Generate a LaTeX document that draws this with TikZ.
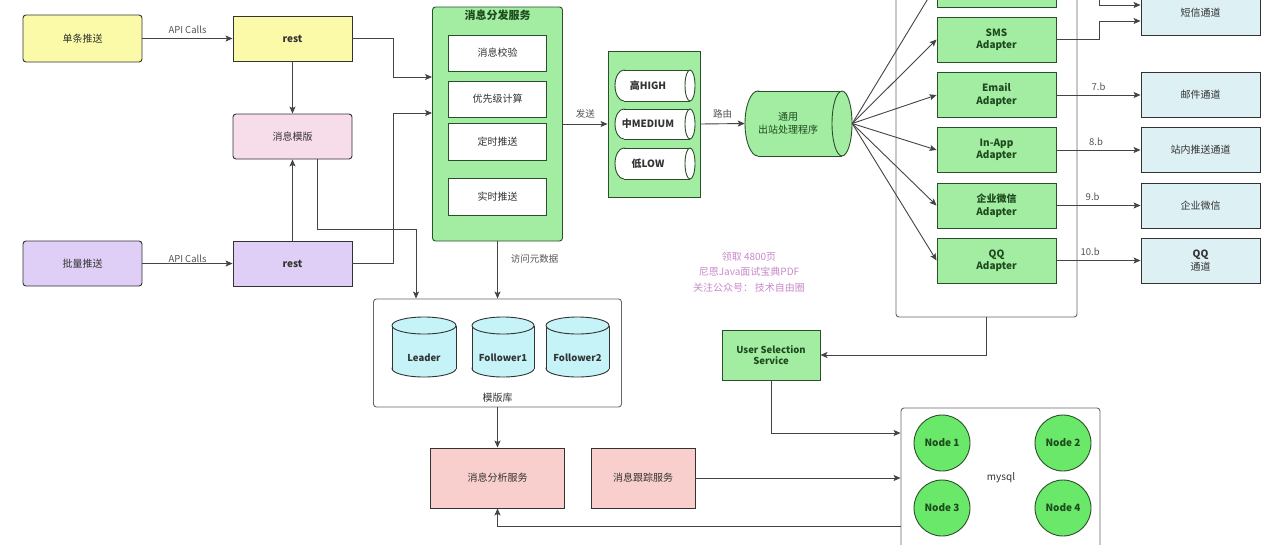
\documentclass[tikz,border=0pt]{standalone}
\usepackage{fontspec}
\setmainfont{Noto Sans CJK SC}
\usetikzlibrary{arrows.meta,calc}
\definecolor{cyel}{HTML}{FAFAA8}
\definecolor{cpink}{HTML}{F7DCE9}
\definecolor{cpur}{HTML}{DFCEF5}
\definecolor{cgreen}{HTML}{A2EDA2}
\definecolor{ccyan}{HTML}{C5F3F7}
\definecolor{cchan}{HTML}{DDF0F4}
\definecolor{csal}{HTML}{F8CFCC}
\definecolor{cnode}{HTML}{6AE86A}
\definecolor{bordc}{HTML}{333333}
\definecolor{gbord}{HTML}{2A4F2A}
\definecolor{gtxt}{HTML}{1E4A1E}
\definecolor{txtc}{HTML}{333333}
\definecolor{linec}{HTML}{444444}
\definecolor{lblc}{HTML}{555555}
\definecolor{wmark}{HTML}{C98AC9}
\newcommand\hcyl[7]{%
  \draw[draw=gbord,line width=0.9pt,fill=#7] ({#1+#5},{(#2+#4)/2}) ellipse [x radius=#5, y radius={(#4-#2)/2}];
  \fill[#7] ({#1+#5},#2) rectangle ({#3-#6},#4);
  \draw[draw=gbord,line width=0.9pt] ({#1+#5},#2) -- ({#3-#6},#2) ({#1+#5},#4) -- ({#3-#6},#4);
  \draw[draw=gbord,line width=0.9pt,fill=#7] ({#3-#6},{(#2+#4)/2}) ellipse [x radius=#6, y radius={(#4-#2)/2}];
}
\newcommand\vcyl[6]{%
  \draw[draw=bordc,line width=0.9pt,fill=#6] ({(#1+#3)/2},{#4-#5}) ellipse [x radius={(#3-#1)/2}, y radius=#5];
  \fill[#6] (#1,{#2+#5}) rectangle (#3,{#4-#5});
  \draw[draw=bordc,line width=0.9pt] (#1,{#2+#5}) -- (#1,{#4-#5}) (#3,{#2+#5}) -- (#3,{#4-#5});
  \draw[draw=bordc,line width=0.9pt,fill=#6] ({(#1+#3)/2},{#2+#5}) ellipse [x radius={(#3-#1)/2}, y radius=#5];
}
\begin{document}
\begin{tikzpicture}[x=1pt,y=-1pt,
  every node/.style={font=\fontsize{10}{12.5}\selectfont},
  bx/.style={draw=bordc, line width=0.9pt, minimum width=119, minimum height=45, inner sep=1pt, align=center, text=txtc},
  ybox/.style={bx, fill=cyel},
  pbox/.style={bx, fill=cpur},
  gbox/.style={bx, fill=cgreen, draw=gbord, text=gtxt, font=\fontsize{10}{12.5}\selectfont\bfseries},
  wbox/.style={bx, fill=white, draw=gbord, minimum width=98, minimum height=36},
  chbox/.style={bx, fill=cchan},
  sbox/.style={bx, fill=csal, minimum height=60},
  cont/.style={draw=black!60, line width=0.9pt, rounded corners=3pt, fill=white},
  nodec/.style={circle, draw=gbord, line width=0.9pt, fill=cnode, minimum size=56, inner sep=0pt, text=gtxt, font=\fontsize{10}{12}\selectfont\bfseries},
  lbl/.style={inner sep=1pt, text=lblc, font=\fontsize{9.5}{11}\selectfont},
  ctext/.style={inner sep=0pt, align=center},
  arr/.style={draw=linec, line width=0.9pt, -{Stealth[length=7pt,width=6pt,inset=1.5pt]}},
  ln/.style={draw=linec, line width=0.9pt}
]
\useasboundingbox (0,0) rectangle (1276,544);
\fill[white] (0,0) rectangle (1276,544);
\clip (0,0) rectangle (1276,544);

% left column
\node[ybox, rounded corners=3pt, minimum height=47] (s1) at (82.5,38.5) {单条推送};
\node[ybox, font=\fontsize{10}{12}\selectfont\bfseries] (r1) at (292.5,38.5) {rest};
\node[bx, fill=cpink, rounded corners=3pt] (tpl) at (292.5,136.5) {消息模版};
\node[pbox, rounded corners=3pt] (s2) at (82.5,263.5) {批量推送};
\node[pbox, font=\fontsize{10}{12}\selectfont\bfseries] (r2) at (292.5,263.5) {rest};

% dispatch service
\node[bx, fill=cgreen, draw=gbord, rounded corners=3pt, minimum width=130, minimum height=234] (disp) at (497.5,124) {};
\node[ctext, text=gtxt, font=\fontsize{11}{13}\selectfont\bfseries] (dispt) at (497.5,15) {消息分发服务};
\node[wbox] (v1) at (497.5,53) {消息校验};
\node[wbox] (v2) at (497.5,99) {优先级计算};
\node[wbox, minimum height=37] (v3) at (497.5,141.5) {定时推送};
\node[wbox, minimum height=37] (v4) at (497.5,196.5) {实时推送};

% queues
\node[bx, fill=cgreen, draw=gbord, minimum width=92, minimum height=146] (q) at (654,124) {};
\hcyl{615}{70}{695}{101}{9}{5}{white}
\hcyl{615}{109}{695}{139}{9}{5}{white}
\hcyl{615}{148}{695}{179}{9}{5}{white}
\node[ctext, text=txtc, font=\fontsize{10}{12}\selectfont\bfseries] (hi) at (648,85.5) {高HIGH};
\node[ctext, text=txtc, font=\fontsize{10}{12}\selectfont\bfseries] (med) at (648,124) {中MEDIUM};
\node[ctext, text=txtc, font=\fontsize{10}{12}\selectfont\bfseries] (lo) at (648,163.5) {低LOW};

% outbound handler
\hcyl{745}{91}{852}{156}{13}{10}{cgreen}
\node[minimum width=107, minimum height=65, inner sep=0pt] (out) at (798.5,123.5) {};
\node[ctext, text=gtxt, font=\fontsize{10}{12.5}\selectfont] (outt) at (788,123.5) {通用\\出站处理程序};

% adapters container
\node[cont, minimum width=181, minimum height=377, inner sep=0pt] (bigc) at (986.5,128.5) {};
\node[gbox] (atop) at (996.5,-15.5) {};
\node[gbox] (asms) at (996.5,39.5) {SMS\\Adapter};
\node[gbox] (amail) at (996.5,95) {Email\\Adapter};
\node[gbox] (aapp) at (996.5,150) {In-App\\Adapter};
\node[gbox] (awx) at (996.5,205.5) {企业微信\\Adapter};
\node[gbox] (aqq) at (996.5,260.5) {QQ\\Adapter};

% channels
\node[chbox] (csms) at (1200.5,12.5) {短信通道};
\node[chbox] (cmail) at (1200.5,95) {邮件通道};
\node[chbox] (capp) at (1200.5,150) {站内推送通道};
\node[chbox] (cwx) at (1200.5,205.5) {企业微信};
\node[chbox] (cqq) at (1200.5,260.5) {\textbf{QQ}\\通道};

% template store
\node[cont, minimum width=248, minimum height=108, inner sep=0pt] (lib) at (497.5,353) {};
\vcyl{392}{317}{456}{377}{8.5}{ccyan}
\vcyl{472}{317}{534}{377}{8.5}{ccyan}
\vcyl{546}{317}{609}{377}{8.5}{ccyan}
\node[ctext, text=txtc, font=\fontsize{9.5}{11}\selectfont\bfseries] (lead) at (424,358) {Leader};
\node[ctext, text=txtc, font=\fontsize{9.5}{11}\selectfont\bfseries] (fol1) at (503,358) {Follower1};
\node[ctext, text=txtc, font=\fontsize{9.5}{11}\selectfont\bfseries] (fol2) at (577.5,358) {Follower2};
\node[ctext, text=txtc] (libt) at (497.5,398) {模版库};

% analysis
\node[sbox, minimum width=134] (ana) at (497.5,478) {消息分析服务};
\node[sbox, minimum width=104] (track) at (643,478) {消息跟踪服务};

% user selection + mysql
\node[gbox, minimum width=98, minimum height=50, font=\fontsize{9.5}{11.5}\selectfont\bfseries] (uss) at (771,355) {User Selection\\Service};
\node[cont, minimum width=199, minimum height=172, inner sep=0pt] (mysql) at (1000.5,494) {};
\node[nodec] (n1) at (942,443) {Node 1};
\node[nodec] (n2) at (1063,443) {Node 2};
\node[nodec] (n3) at (942,508) {Node 3};
\node[nodec] (n4) at (1063,508) {Node 4};
\node[ctext, text=txtc] (mys) at (1001,478) {mysql};

% watermark
\node[ctext, text=wmark, font=\fontsize{10}{15.5}\selectfont] (wm) at (749,272) {领取 4800页\\尼恩Java面试宝典PDF\\关注公众号：\,技术自由圈};

% connectors
\draw[arr] (s1.east) -- (r1.west) node[lbl, midway, above=3pt] (l1) {API Calls};
\draw[arr] (s2.east) -- (r2.west) node[lbl, midway, fill=white, yshift=5pt] (l2) {API Calls};
\draw[arr] (r1.south) -- (tpl.north);
\draw[arr] (r2.north) -- (tpl.south);
\draw[arr] (r1.east) -- ++(41,0) |- ($(disp.west)+(0,-47)$);
\draw[arr] (r2.east) -- ++(41,0) |- ($(disp.west)+(0,-11)$);
\draw[arr] ($(tpl.south)+(24.5,0)$) -- ++(0,70) -| ($(lib.north)+(-81.5,0)$);
\draw[arr] (disp.south) -- (lib.north) node[lbl, pos=0.3, right=12pt] (l3) {访问元数据};
\draw[arr] (lib.south) -- (ana.north);
\draw[arr] (disp.east) -- (q.west) node[lbl, midway, above=4pt] (l4) {发送};
\draw[arr] (q.east) -- (out.west) node[lbl, midway, above=4pt] (l5) {路由};
\foreach \a in {atop,asms,amail,aapp,awx,aqq} \draw[arr] (out.east) -- (\a.west);
\draw[arr] (atop.east) -- ++(43,0) |- ($(csms.west)+(0,-7.5)$);
\draw[arr] (asms.east) -- ++(43,0) |- ($(csms.west)+(0,8.5)$);
\draw[arr] (amail.east) -- (cmail.west) node[lbl, pos=0.5, above=3pt] (l7) {7.b};
\draw[arr] (aapp.east) -- (capp.west) node[lbl, pos=0.47, above=3pt] (l8) {8.b};
\draw[arr] (awx.east) -- (cwx.west) node[lbl, pos=0.43, above=3pt] (l9) {9.b};
\draw[arr] (aqq.east) -- (cqq.west) node[lbl, pos=0.4, above=3pt] (l10) {10.b};
\draw[arr] (bigc.south) |- (uss.east);
\draw[arr] (uss.south) |- ($(mysql.west)+(0,-61)$);
\draw[arr] (track.east) -- ($(mysql.west)+(0,-16)$);
\draw[arr] ($(mysql.west)+(0,32)$) -| (ana.south);
\end{tikzpicture}
\end{document}
